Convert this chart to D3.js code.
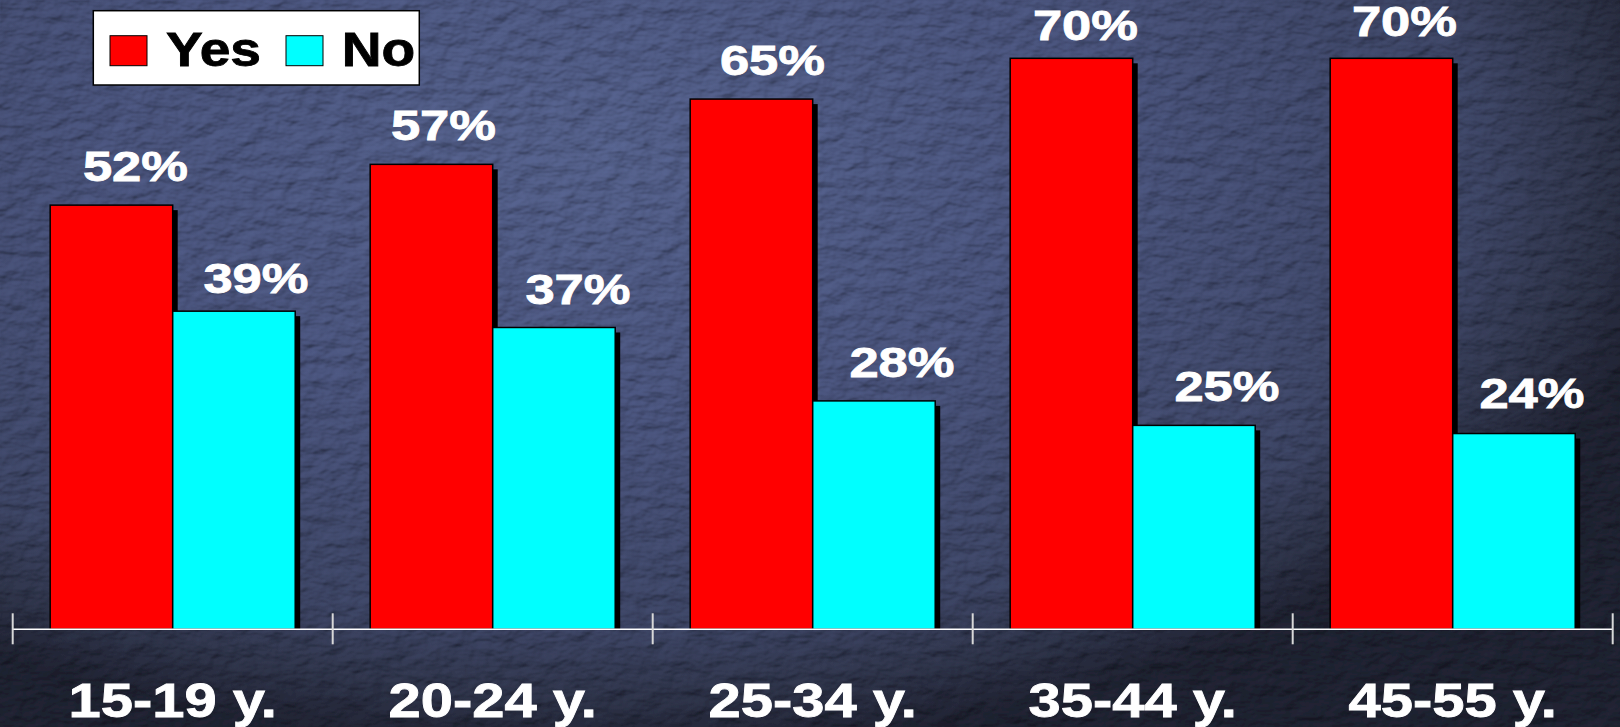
<!DOCTYPE html>
<html>
<head>
<meta charset="utf-8">
<script src="https://cdn.jsdelivr.net/npm/d3@7/dist/d3.min.js"></script>
<style>
  html, body { margin: 0; padding: 0; background: #2a2f44; overflow: hidden; }
  svg { display: block; }
  text { font-family: "Liberation Sans", Arial, sans-serif; font-weight: bold; }
</style>
</head>
<body>
<svg id="chart" width="1620" height="727"></svg>
<script>
// ---- data ----
const categories = ["15-19 y.", "20-24 y.", "25-34 y.", "35-44 y.", "45-55 y."];
const seriesNames = ["Yes", "No"];
const yesValues = [52, 57, 65, 70, 70];
const noValues = [39, 37, 28, 25, 24];
const seriesColors = ["#ff0000", "#00ffff"];

// hand-placed value labels: [dx, dy] nudges from the default spot above each bar
const yesLabelNudge = [[4, 0], [-8, 0], [1, 0], [-6, 6], [-7, 2]];
const noLabelNudge = [[2, 6], [4, 1], [8, 0], [13, 0], [-2, -2]];

const W = 1620, H = 727;
const svg = d3.select("#chart");
const defs = svg.append("defs");

// ---- textured slate background ----
const grad = defs.append("radialGradient")
  .attr("id", "bgGrad")
  .attr("gradientUnits", "userSpaceOnUse")
  .attr("cx", 0).attr("cy", 0).attr("r", 1)
  .attr("gradientTransform", "translate(600,150) scale(1100,600)");
[[0, "#525e88"], [0.45, "#48527a"], [0.8, "#3b4362"], [0.92, "#2c3146"], [1, "#1e2130"]]
  .forEach(([o, c]) => grad.append("stop").attr("offset", o).attr("stop-color", c));

const stucco = defs.append("filter")
  .attr("id", "stucco")
  .attr("filterUnits", "userSpaceOnUse")
  .attr("x", 0).attr("y", 0).attr("width", W).attr("height", H);
stucco.append("feTurbulence")
  .attr("type", "fractalNoise")
  .attr("baseFrequency", "0.045 0.075")
  .attr("numOctaves", 3)
  .attr("seed", 11)
  .attr("result", "noise");
stucco.append("feDiffuseLighting")
  .attr("in", "noise")
  .attr("surfaceScale", 3)
  .attr("diffuseConstant", 1)
  .attr("lighting-color", "#ffffff")
  .attr("result", "light")
  .append("feDistantLight").attr("azimuth", 235).attr("elevation", 55);
stucco.append("feComposite")
  .attr("in", "SourceGraphic").attr("in2", "light")
  .attr("operator", "arithmetic")
  .attr("k1", 1.2).attr("k2", 0).attr("k3", 0).attr("k4", 0);

svg.append("rect")
  .attr("width", W).attr("height", H)
  .attr("fill", "url(#bgGrad)")
  .attr("filter", "url(#stucco)");

// ---- scales ----
const x0 = d3.scaleBand().domain(categories).range([12.7, 1612.7]).padding(0);
const x1 = d3.scaleBand().domain(seriesNames).range([0, x0.bandwidth()])
  .paddingInner(0).paddingOuter(0.306);
const y = d3.scaleLinear().domain([0, 70]).range([629.3, 58.3]);
const color = d3.scaleOrdinal().domain(seriesNames).range(seriesColors);

const rows = categories.map((c, i) => ({
  category: c,
  items: [
    { series: "Yes", value: yesValues[i], nudge: yesLabelNudge[i] },
    { series: "No", value: noValues[i], nudge: noLabelNudge[i] }
  ]
}));

// ---- bars with drop shadow ----
const shadowOffset = 5;
const groups = svg.append("g").selectAll("g.group")
  .data(rows).join("g")
  .attr("class", "group")
  .attr("transform", d => `translate(${x0(d.category)},0)`);

groups.each(function (d) {
  const g = d3.select(this);
  d.items.forEach(it => {
    g.append("rect")
      .attr("x", x1(it.series) + shadowOffset)
      .attr("y", y(it.value) + shadowOffset)
      .attr("width", x1.bandwidth())
      .attr("height", y(0) - y(it.value) - shadowOffset)
      .attr("fill", "#000");
    g.append("rect")
      .attr("x", x1(it.series))
      .attr("y", y(it.value))
      .attr("width", x1.bandwidth())
      .attr("height", y(0) - y(it.value))
      .attr("fill", color(it.series))
      .attr("stroke", "#000")
      .attr("stroke-width", 1.5);
  });
});

// ---- value labels ----
const labelRise = 24, labelShift = 20, valueStretch = 1.25;
groups.each(function (d) {
  const g = d3.select(this);
  d.items.forEach(it => {
    const cx = x1(it.series) + x1.bandwidth() / 2 + labelShift + it.nudge[0];
    const by = y(it.value) - labelRise + it.nudge[1];
    g.append("text")
      .attr("transform", `translate(${cx},${by}) scale(${valueStretch},1)`)
      .attr("text-anchor", "middle")
      .attr("fill", "#ffffff")
      .attr("stroke", "#ffffff")
      .attr("stroke-width", 0.8)
      .attr("font-size", 42)
      .text(it.value + "%");
  });
});

// ---- category axis ----
const axisY = y(0);
const axis = svg.append("g").attr("class", "axis");
axis.append("line")
  .attr("x1", x0.range()[0]).attr("x2", x0.range()[1])
  .attr("y1", axisY).attr("y2", axisY)
  .attr("stroke", "#ffffff").attr("stroke-width", 1.6);
const boundaries = categories.map(c => x0(c)).concat([x0.range()[1]]);
axis.selectAll("line.tick").data(boundaries).join("line")
  .attr("class", "tick")
  .attr("x1", d => d).attr("x2", d => d)
  .attr("y1", axisY - 16).attr("y2", axisY + 15)
  .attr("stroke", "#d8d8d8").attr("stroke-width", 2);
axis.selectAll("text.cat").data(categories).join("text")
  .attr("class", "cat")
  .attr("transform", d => `translate(${x0(d) + x0.bandwidth() / 2},717) scale(1.22,1)`)
  .attr("text-anchor", "middle")
  .attr("fill", "#ffffff")
  .attr("stroke", "#ffffff")
  .attr("stroke-width", 0.8)
  .attr("font-size", 47.5)
  .text(d => d);

// ---- legend ----
const legend = svg.append("g").attr("class", "legend");
legend.append("rect")
  .attr("x", 93.3).attr("y", 10.7).attr("width", 326).attr("height", 74.3)
  .attr("fill", "#ffffff").attr("stroke", "#000").attr("stroke-width", 1.5);
const legendItems = [
  { name: seriesNames[0], sx: 110, tx: 166 },
  { name: seriesNames[1], sx: 286, tx: 341.7 }
];
legendItems.forEach(li => {
  legend.append("rect")
    .attr("x", li.sx).attr("y", 35.7).attr("width", 37).attr("height", 30)
    .attr("fill", color(li.name)).attr("stroke", "#000").attr("stroke-width", 1);
  legend.append("text")
    .attr("transform", `translate(${li.tx},65.7) scale(1.16,1)`)
    .attr("fill", "#000")
    .attr("stroke", "#000")
    .attr("stroke-width", 0.8)
    .attr("font-size", 47.5)
    .text(li.name);
});
</script>
</body>
</html>
